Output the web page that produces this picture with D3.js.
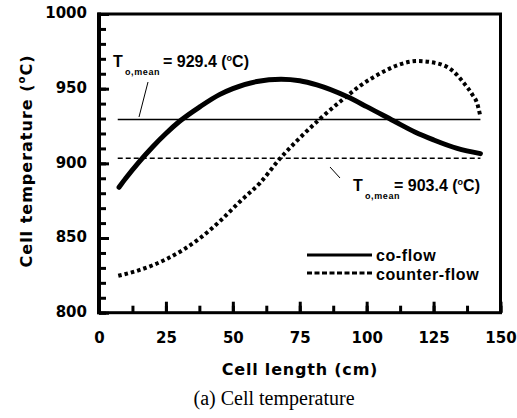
<!DOCTYPE html>
<html>
<head>
<meta charset="utf-8">
<script src="https://cdn.jsdelivr.net/npm/d3@7"></script>
<style>
  body { margin: 0; background: #fff; }
  svg { display: block; }
</style>
</head>
<body>
<svg id="chart" width="517" height="418"></svg>
<script>
// values
var coFlowX = [7.5, 10, 15, 20, 25, 30, 37.8, 45, 50, 59, 68, 75, 81.4, 92.6, 100, 110, 118, 125, 133.8, 142.5];
var coFlowT = [884, 890, 901, 911, 920, 928, 938, 946, 950, 954.8, 956.3, 955.3, 952.5, 944.7, 938, 928.5, 921, 915.7, 910, 906.5];
var counterX = [7.2, 15, 25.3, 37.8, 45, 52.7, 60.2, 67.7, 75, 82.7, 92.6, 97.6, 106.4, 112, 118.8, 126.3, 132.5, 136.2, 139.5, 141.3, 142.5];
var counterT = [824.7, 828.5, 836, 850, 861, 874.5, 887, 903.4, 917, 930, 945, 952, 961.5, 966, 968.5, 967, 961.4, 954, 946, 940, 931.3];
var meanCo = 929.4, meanCounter = 903.4;
var meanStart = 7, meanEnd = 142.5;
var xTicks = [0, 25, 50, 75, 100, 125, 150];
var yTicks = [800, 850, 900, 950, 1000];

var svg = d3.select("#chart");
var pLeft = 99, pRight = 500.5, pTop = 14, pBottom = 312.7;

var x = d3.scaleLinear().domain([0, 150]).range([pLeft, pRight]);
var y = d3.scaleLinear().domain([800, 1000]).range([pBottom, pTop]);

var boldFont = "DejaVu Sans, sans-serif";
var annFont = "Liberation Sans, Arial, sans-serif";

// minor ticks
svg.append("g")
    .attr("transform", "translate(" + pLeft + ",0)")
    .call(d3.axisLeft(y).tickValues(d3.range(800, 1001, 10)).tickSizeInner(-7).tickSizeOuter(0).tickFormat(""))
    .call(g => g.select(".domain").remove())
    .call(g => g.selectAll("line").attr("stroke-width", 3));
svg.append("g")
    .attr("transform", "translate(0," + pBottom + ")")
    .call(d3.axisBottom(x).tickValues(d3.range(0, 151, 12.5)).tickSizeInner(-7).tickSizeOuter(0).tickFormat(""))
    .call(g => g.select(".domain").remove())
    .call(g => g.selectAll("line").attr("stroke-width", 3));

// major ticks + labels
svg.append("g")
    .attr("transform", "translate(" + pLeft + ",0)")
    .call(d3.axisLeft(y).tickValues(yTicks).tickFormat(d3.format("d"))
        .tickSizeInner(-10).tickSizeOuter(0).tickPadding(12))
    .call(g => g.select(".domain").remove())
    .call(g => g.selectAll("line").attr("stroke-width", 3))
    .call(g => g.selectAll("text")
        .attr("font-family", boldFont).attr("font-weight", "bold")
        .attr("font-size", 15).attr("fill", "#000").attr("dy", "0.25em"));
svg.append("g")
    .attr("transform", "translate(0," + pBottom + ")")
    .call(d3.axisBottom(x).tickValues(xTicks).tickFormat(d3.format("d"))
        .tickSizeInner(-11).tickSizeOuter(0).tickPadding(20))
    .call(g => g.select(".domain").remove())
    .call(g => g.selectAll("line").attr("stroke-width", 3))
    .call(g => g.selectAll("text")
        .attr("font-family", boldFont).attr("font-weight", "bold")
        .attr("font-size", 15).attr("fill", "#000"));

// frame
svg.append("rect")
    .attr("x", pLeft).attr("y", pTop)
    .attr("width", pRight - pLeft).attr("height", pBottom - pTop)
    .attr("fill", "none").attr("stroke", "#000").attr("stroke-width", 3);
svg.append("line")
    .attr("x1", pLeft).attr("x2", pLeft).attr("y1", pTop - 1.5).attr("y2", pBottom + 1.5)
    .attr("stroke", "#000").attr("stroke-width", 4);

// mean lines
svg.append("line")
    .attr("x1", x(meanStart)).attr("x2", x(meanEnd))
    .attr("y1", y(meanCo)).attr("y2", y(meanCo))
    .attr("stroke", "#000").attr("stroke-width", 1.5);
svg.append("line")
    .attr("x1", x(meanStart)).attr("x2", x(meanEnd))
    .attr("y1", y(meanCounter)).attr("y2", y(meanCounter))
    .attr("stroke", "#000").attr("stroke-width", 1.3)
    .attr("stroke-dasharray", "5,3");

// curves
var line = d3.line()
    .x(d => x(d[0]))
    .y(d => y(d[1]))
    .curve(d3.curveMonotoneX);

svg.append("path")
    .datum(d3.zip(coFlowX, coFlowT))
    .attr("d", line)
    .attr("fill", "none").attr("stroke", "#000")
    .attr("stroke-width", 5).attr("stroke-linecap", "round");

svg.append("path")
    .datum(d3.zip(counterX, counterT))
    .attr("d", line)
    .attr("fill", "none").attr("stroke", "#000")
    .attr("stroke-width", 4).attr("stroke-dasharray", "3.5,3");

// annotations
function meanLabel(tx, ty, val, eqX) {
    var t = svg.append("text")
        .attr("font-family", annFont).attr("font-weight", "bold")
        .attr("font-size", 16).attr("fill", "#000");
    t.append("tspan").attr("x", tx).attr("y", ty).text("T");
    t.append("tspan").attr("x", tx + 12).attr("y", ty + 8)
        .attr("font-size", 9).attr("letter-spacing", 0.6).text("o,mean");
    t.append("tspan").attr("x", eqX).attr("y", ty).text("= " + val + " (");
    t.append("tspan").attr("dy", -6).attr("font-size", 9).text("o");
    t.append("tspan").attr("dy", 6).text("C)");
}
meanLabel(113, 67, meanCo.toFixed(1), 163);
meanLabel(353, 191, meanCounter.toFixed(1), 394);

svg.append("line")
    .attr("x1", 148).attr("y1", 82).attr("x2", 139).attr("y2", 117)
    .attr("stroke", "#000").attr("stroke-width", 1);
svg.append("line")
    .attr("x1", 330).attr("y1", 167).attr("x2", 340).attr("y2", 178)
    .attr("stroke", "#000").attr("stroke-width", 1);

// legend
var legend = svg.append("g");
legend.append("line")
    .attr("x1", 307).attr("x2", 372).attr("y1", 255).attr("y2", 255)
    .attr("stroke", "#000").attr("stroke-width", 3);
legend.append("line")
    .attr("x1", 307).attr("x2", 372).attr("y1", 273).attr("y2", 273)
    .attr("stroke", "#000").attr("stroke-width", 3).attr("stroke-dasharray", "5,2.5");
legend.append("text").attr("x", 376).attr("y", 261).text("co-flow");
legend.append("text").attr("x", 376).attr("y", 280).text("counter-flow");
legend.selectAll("text")
    .attr("font-family", annFont).attr("font-weight", "bold")
    .attr("font-size", 16).attr("letter-spacing", 0.6);

// axis titles
svg.append("text")
    .attr("x", 300).attr("y", 375)
    .attr("text-anchor", "middle")
    .attr("font-family", boldFont).attr("font-weight", "bold")
    .attr("font-size", 16).attr("letter-spacing", 0.8)
    .text("Cell length (cm)");

var yt = svg.append("text")
    .attr("transform", "translate(32,161) rotate(-90)")
    .attr("text-anchor", "middle")
    .attr("font-family", boldFont).attr("font-weight", "bold")
    .attr("font-size", 16).attr("letter-spacing", 1);
yt.append("tspan").text("Cell temperature (");
yt.append("tspan").attr("dy", -7).attr("font-size", 10).text("o");
yt.append("tspan").attr("dy", 7).text("C)");

// caption
svg.append("text")
    .attr("x", 274).attr("y", 405)
    .attr("text-anchor", "middle")
    .attr("font-family", "Liberation Serif, Times New Roman, serif")
    .attr("font-size", 20)
    .text("(a) Cell temperature");
</script>
</body>
</html>
